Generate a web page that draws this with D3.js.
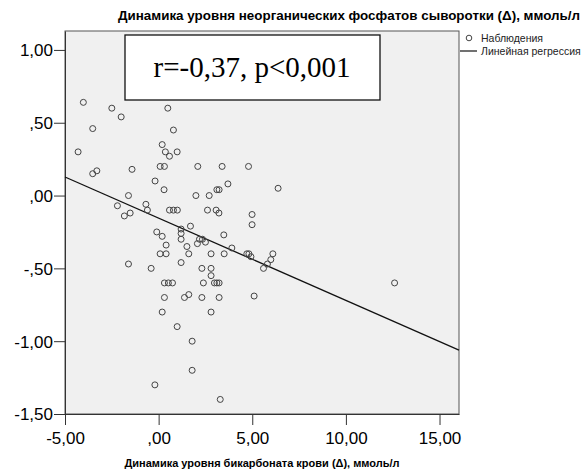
<!DOCTYPE html>
<html>
<head>
<meta charset="utf-8">
<script src="https://cdn.jsdelivr.net/npm/d3@7"></script>
<style>
  body { margin: 0; background: #fff; }
</style>
</head>
<body>
<script>
// bicarbonate change (x) vs phosphate change (y)
const bicarb = [-4.02, -2.50, -2.00, 0.49, -3.52, 0.79, -4.30, 0.19, 0.36, 0.58,
  0.99, 0.08, 0.31, 2.09, 3.39, 4.80, -3.52, -3.30, -1.42, -0.19,
  0.29, 3.70, 3.11, 3.23, 6.38, -1.61, 1.99, 2.70, -2.20, -0.68,
  -0.60, 0.58, 0.79, 1.00, 2.61, 3.07, 3.22, 4.99, -1.83, -1.52,
  4.99, -0.10, 0.19, 1.20, 1.20, 1.20, 1.70, 3.48, 0.40, 0.08,
  0.40, 1.51, 1.61, 2.18, 2.34, 2.50, 2.07, 2.80, 3.50, 3.91,
  4.71, 4.82, 4.93, 6.10, 5.99, 5.81, 5.60, -1.61, -0.40, 1.20,
  2.31, 2.80, 2.80, 0.31, 0.52, 0.74, 2.39, 2.98, 3.11, 3.23,
  0.31, 1.38, 1.61, 2.31, 3.23, 5.10, 0.19, 2.80, 0.99, 1.79,
  1.79, -0.20, 3.29, 12.60];
const phosph = [0.64, 0.60, 0.54, 0.60, 0.46, 0.45, 0.30, 0.35, 0.30, 0.27,
  0.30, 0.20, 0.20, 0.20, 0.20, 0.20, 0.15, 0.17, 0.18, 0.10,
  0.04, 0.08, 0.04, 0.04, 0.05, 0.00, 0.00, 0.00, -0.07, -0.06,
  -0.10, -0.10, -0.10, -0.10, -0.10, -0.10, -0.12, -0.13, -0.14, -0.12,
  -0.20, -0.25, -0.28, -0.23, -0.26, -0.30, -0.21, -0.27, -0.34, -0.40,
  -0.40, -0.35, -0.40, -0.30, -0.30, -0.32, -0.33, -0.40, -0.40, -0.36,
  -0.40, -0.40, -0.42, -0.40, -0.44, -0.47, -0.50, -0.47, -0.50, -0.46,
  -0.50, -0.50, -0.55, -0.60, -0.60, -0.60, -0.60, -0.60, -0.60, -0.60,
  -0.70, -0.70, -0.68, -0.70, -0.70, -0.69, -0.80, -0.80, -0.90, -1.00,
  -1.20, -1.30, -1.40, -0.60];

const xTicks = [-5, 0, 5, 10, 15];
const yTicks = [1, 0.5, 0, -0.5, -1, -1.5];

// fitted line shown on the chart
const regIntercept = -0.155;
const regSlope = -0.0565;

const legendItems = ["Наблюдения", "Линейная регрессия"];
const statText = "r=-0,37, p<0,001";

const sans = "'Liberation Sans', Arial, sans-serif";
const serif = "'Liberation Serif', 'Times New Roman', serif";

const fmt = d => {
  let s = d3.format(".2f")(Math.abs(d)).replace(".", ",");
  if (Math.abs(d) < 1) s = s.replace(/^0/, "");
  return (d < 0 ? "-" : "") + s;
};

const W = 584, H = 474;
const svg = d3.select("body").append("svg").attr("width", W).attr("height", H)
  .style("font-family", sans);

const xMin = -5, xMax = 16.04, yMin = -1.5, yMax = 1.13;
const x = d3.scaleLinear().domain([xMin, xMax]).range([65, 459]);
const y = d3.scaleLinear().domain([yMin, yMax]).range([414, 31]);

// plot background
svg.append("rect")
  .attr("x", x(xMin)).attr("y", y(yMax))
  .attr("width", x(xMax) - x(xMin)).attr("height", y(yMin) - y(yMax))
  .attr("fill", "#f0f0f0").attr("stroke", "#555").attr("stroke-width", 1);

// axes
const xAxis = svg.append("g").attr("transform", `translate(0,${y(yMin)})`)
  .call(d3.axisBottom(x).tickValues(xTicks).tickSize(11).tickSizeOuter(0).tickFormat(fmt));
const yAxis = svg.append("g").attr("transform", `translate(${x(xMin)},0)`)
  .call(d3.axisLeft(y).tickValues(yTicks).tickSize(11).tickSizeOuter(0).tickPadding(1).tickFormat(fmt));
[xAxis, yAxis].forEach(g => {
  g.select(".domain").attr("stroke", "#333");
  g.selectAll(".tick line").attr("stroke", "#333");
  g.selectAll(".tick text").attr("font-size", 17).attr("fill", "#000")
    .attr("font-family", sans);
});
xAxis.selectAll(".tick text").attr("dy", "0.95em");
yAxis.selectAll(".tick text").attr("dy", "0.35em");

// regression line across full x range
svg.append("line")
  .attr("x1", x(xMin)).attr("y1", y(regIntercept + regSlope * xMin))
  .attr("x2", x(xMax)).attr("y2", y(regIntercept + regSlope * xMax))
  .attr("stroke", "#111").attr("stroke-width", 1.3);

// observations
svg.append("g").selectAll("circle")
  .data(bicarb.map((b, i) => [b, phosph[i]]))
  .join("circle")
  .attr("cx", d => x(d[0])).attr("cy", d => y(d[1]))
  .attr("r", 3)
  .attr("fill", "none").attr("stroke", "#444").attr("stroke-width", 1);

// stat box
svg.append("rect")
  .attr("x", 125).attr("y", 35).attr("width", 255).attr("height", 65)
  .attr("fill", "#fff").attr("stroke", "#111").attr("stroke-width", 1.3);
svg.append("text")
  .attr("x", 252).attr("y", 77).attr("text-anchor", "middle")
  .style("font-family", serif)
  .attr("font-size", 29).text(statText);

// titles
svg.append("text").attr("x", 349).attr("y", 20).attr("text-anchor", "middle")
  .attr("font-size", 13.4).attr("font-weight", "bold").text("Динамика уровня неорганических фосфатов сыворотки (Δ), ммоль/л");
svg.append("text").attr("x", 262).attr("y", 467).attr("text-anchor", "middle")
  .attr("font-size", 11).attr("font-weight", "bold").text("Динамика уровня бикарбоната крови (Δ), ммоль/л");

// legend
const lg = svg.append("g").attr("font-size", 10.5).attr("fill", "#222");
lg.append("circle").attr("cx", 469).attr("cy", 38).attr("r", 2.8)
  .attr("fill", "none").attr("stroke", "#444");
lg.append("text").attr("x", 481).attr("y", 42).text(legendItems[0]);
lg.append("line").attr("x1", 460).attr("x2", 477).attr("y1", 51).attr("y2", 51)
  .attr("stroke", "#111").attr("stroke-width", 1.2);
lg.append("text").attr("x", 481).attr("y", 55).text(legendItems[1]);
</script>
</body>
</html>
